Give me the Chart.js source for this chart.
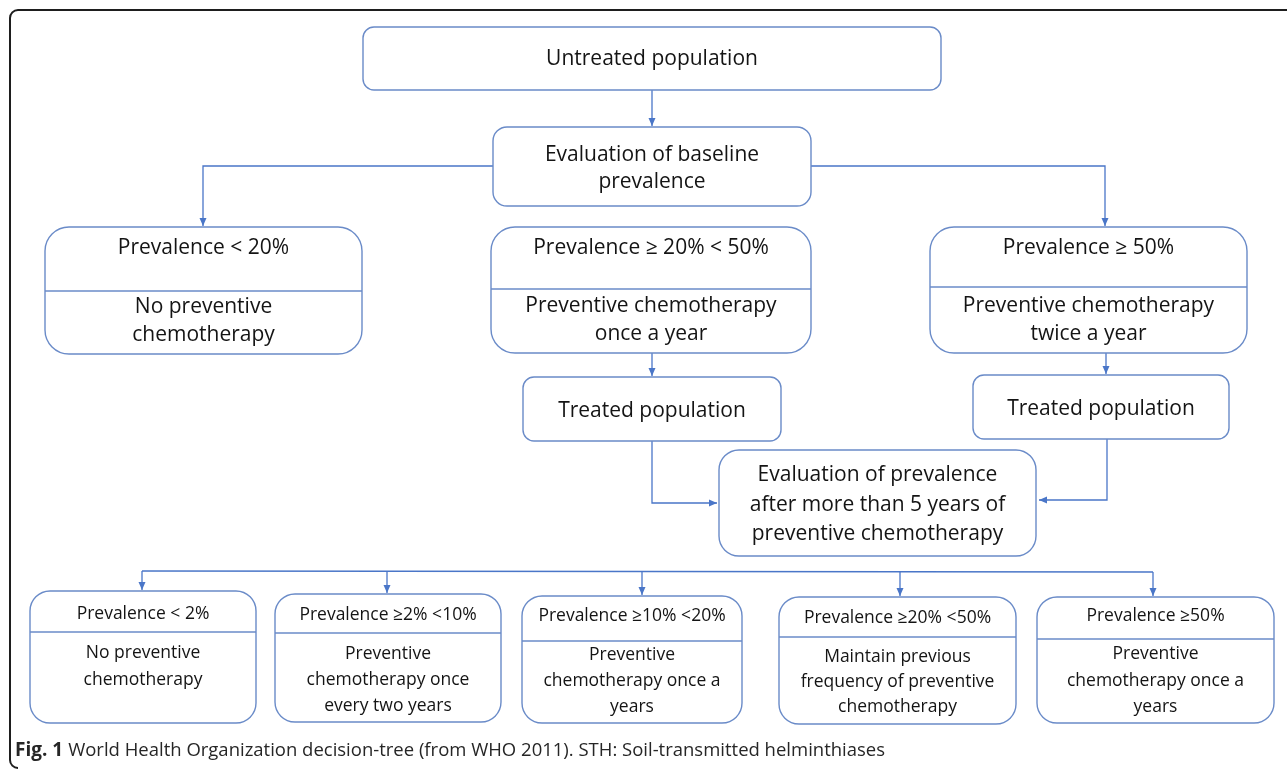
<!DOCTYPE html>
<html>
<head>
<meta charset="utf-8">
<title>WHO decision-tree</title>
<script src="https://cdn.jsdelivr.net/npm/chart.js@4.4.1/dist/chart.umd.min.js"></script>
<style>
  html, body { margin: 0; padding: 0; background: #fff; }
  #wrap { position: relative; width: 1287px; height: 769px; }
</style>
</head>
<body>
<div id="wrap"><canvas id="tree-chart"></canvas></div>
<script>
  'use strict';

  // node texts: header lines, then the lines under the divider (empty when no divider)
  const nodeHeads = [
    ['Untreated population'],
    ['Evaluation of baseline', 'prevalence'],
    ['Prevalence < 20%'],
    ['Prevalence \u2265 20% < 50%'],
    ['Prevalence \u2265 50%'],
    ['Treated population'],
    ['Treated population'],
    ['Evaluation of prevalence', 'after more than 5 years of', 'preventive chemotherapy'],
    ['Prevalence < 2%'],
    ['Prevalence \u22652% <10%'],
    ['Prevalence \u226510% <20%'],
    ['Prevalence \u226520% <50%'],
    ['Prevalence \u226550%']
  ];
  const nodeBodies = [
    [],
    [],
    ['No preventive', 'chemotherapy'],
    ['Preventive chemotherapy', 'once a year'],
    ['Preventive chemotherapy', 'twice a year'],
    [],
    [],
    [],
    ['No preventive', 'chemotherapy'],
    ['Preventive', 'chemotherapy once', 'every two years'],
    ['Preventive', 'chemotherapy once a', 'years'],
    ['Maintain previous', 'frequency of preventive', 'chemotherapy'],
    ['Preventive', 'chemotherapy once a', 'years']
  ];
  const captionBold = 'Fig. 1';
  const captionText = 'World Health Organization decision-tree (from WHO 2011). STH: Soil-transmitted helminthiases';

  // layout of the boxes, in chart units (x 0..1287, y 0..769 from the top)
  const boxLeft   = [363, 493, 45, 491, 930, 523, 973, 719, 30, 275, 522, 779, 1037];
  const boxTop    = [27, 127, 227, 227, 227, 377, 375, 450, 591, 594, 596, 597, 597];
  const boxRight  = [941, 811, 362, 811, 1247, 781, 1229, 1036, 256, 501, 742, 1016, 1274];
  const boxBottom = [90, 206, 354, 353, 353, 441, 439, 556, 723, 722, 723, 724, 723];
  const boxRadius = [11, 14, 24, 24, 24, 11, 11, 20, 20, 20, 20, 20, 20];
  const dividerY  = [null, null, 291, 289, 287, null, null, null, 632, 633, 641, 637, 639];
  const headY     = [[58], [154, 181], [247], [247], [247], [410], [408], [474, 504, 533], [613], [614], [615], [617], [615]];
  const bodyY     = [[], [], [306, 334], [305, 333], [305, 333], [], [], [], [652, 679], [653, 679, 705], [654, 680, 706], [656, 681, 706], [653, 680, 706]];
  const bigFont   = [21, 21, 21, 21, 21, 21, 21, 21, 17.5, 17.5, 17.5, 17.5, 17.5];

  // connectors: polylines, arrow head at the last point when arrow is true
  const links = [
    { pts: [[652, 90], [652, 126]], arrow: true },
    { pts: [[493, 166], [203, 166], [203, 226]], arrow: true },
    { pts: [[811, 166], [1105, 166], [1105, 226]], arrow: true },
    { pts: [[652, 353], [652, 376]], arrow: true },
    { pts: [[1106, 353], [1106, 374]], arrow: true },
    { pts: [[652, 441], [652, 503], [717, 503]], arrow: true },
    { pts: [[1107, 439], [1107, 500], [1039, 500]], arrow: true },
    { pts: [[142, 571], [1153, 572]], arrow: false },
    { pts: [[142, 571], [142, 590]], arrow: true },
    { pts: [[387, 571], [387, 593]], arrow: true },
    { pts: [[642, 571], [642, 595]], arrow: true },
    { pts: [[900, 572], [900, 596]], arrow: true },
    { pts: [[1153, 572], [1153, 596]], arrow: true }
  ];

  const boxColor = '#6a8bc8';
  const linkColor = '#4a76c8';
  const textColor = '#141414';
  const fontFamily = '"Open Sans", "Noto Sans", sans-serif';

  function roundRect(ctx, x0, y0, x1, y1, r) {
    ctx.beginPath();
    ctx.moveTo(x0 + r, y0);
    ctx.lineTo(x1 - r, y0);
    ctx.arcTo(x1, y0, x1, y0 + r, r);
    ctx.lineTo(x1, y1 - r);
    ctx.arcTo(x1, y1, x1 - r, y1, r);
    ctx.lineTo(x0 + r, y1);
    ctx.arcTo(x0, y1, x0, y1 - r, r);
    ctx.lineTo(x0, y0 + r);
    ctx.arcTo(x0, y0, x0 + r, y0, r);
    ctx.closePath();
  }

  const treePlugin = {
    id: 'decisionTree',
    afterDatasetsDraw: function (chart) {
      const ctx = chart.ctx;
      const sx = chart.scales.x;
      const sy = chart.scales.y;
      const px = v => sx.getPixelForValue(v);
      const py = v => sy.getPixelForValue(v);
      ctx.save();

      // outer frame
      ctx.strokeStyle = '#1e1e1e';
      ctx.lineWidth = 2;
      ctx.beginPath();
      ctx.moveTo(px(10), py(760));
      ctx.arcTo(px(10), py(768), px(18), py(768), 8);
      ctx.moveTo(px(10), py(760));
      ctx.lineTo(px(10), py(18));
      ctx.arcTo(px(10), py(10), px(18), py(10), 8);
      ctx.lineTo(px(1287), py(10));
      ctx.stroke();

      // connectors
      ctx.strokeStyle = linkColor;
      ctx.fillStyle = linkColor;
      ctx.lineWidth = 1.3;
      links.forEach(function (l) {
        ctx.beginPath();
        l.pts.forEach(function (p, i) {
          if (i === 0) ctx.moveTo(px(p[0]), py(p[1]));
          else ctx.lineTo(px(p[0]), py(p[1]));
        });
        ctx.stroke();
        if (l.arrow) {
          const a = l.pts[l.pts.length - 2];
          const b = l.pts[l.pts.length - 1];
          const x1 = px(b[0]), y1 = py(b[1]);
          const ang = Math.atan2(y1 - py(a[1]), x1 - px(a[0]));
          ctx.beginPath();
          ctx.moveTo(x1, y1);
          ctx.lineTo(x1 - 8 * Math.cos(ang) + 3.5 * Math.sin(ang), y1 - 8 * Math.sin(ang) - 3.5 * Math.cos(ang));
          ctx.lineTo(x1 - 8 * Math.cos(ang) - 3.5 * Math.sin(ang), y1 - 8 * Math.sin(ang) + 3.5 * Math.cos(ang));
          ctx.closePath();
          ctx.fill();
        }
      });

      // boxes
      ctx.lineWidth = 1.4;
      ctx.textAlign = 'center';
      ctx.textBaseline = 'middle';
      const nudge = 1.5; // canvas "middle" sits a little above the visual centre
      for (let i = 0; i < nodeHeads.length; i++) {
        const x0 = px(boxLeft[i]), x1 = px(boxRight[i]);
        const y0 = py(boxTop[i]), y1 = py(boxBottom[i]);
        ctx.fillStyle = '#ffffff';
        ctx.strokeStyle = boxColor;
        roundRect(ctx, x0, y0, x1, y1, boxRadius[i]);
        ctx.fill();
        ctx.stroke();
        if (dividerY[i] !== null) {
          ctx.beginPath();
          ctx.moveTo(x0, py(dividerY[i]));
          ctx.lineTo(x1, py(dividerY[i]));
          ctx.stroke();
        }
        const cx = (x0 + x1) / 2;
        ctx.fillStyle = textColor;
        ctx.font = bigFont[i] + 'px ' + fontFamily;
        nodeHeads[i].forEach(function (t, k) {
          ctx.fillText(t, cx, py(headY[i][k]) + nudge);
        });
        nodeBodies[i].forEach(function (t, k) {
          ctx.fillText(t, cx, py(bodyY[i][k]) + nudge);
        });
      }

      // caption
      ctx.textAlign = 'left';
      ctx.fillStyle = '#262626';
      ctx.font = 'bold 19px ' + fontFamily;
      ctx.fillText(captionBold, px(15), py(751), 53);
      const bw = Math.min(ctx.measureText(captionBold).width, 53);
      ctx.font = '18.5px ' + fontFamily;
      ctx.fillText(captionText, px(15) + bw + 5, py(751), px(885) - px(15) - bw - 5);

      ctx.restore();
    }
  };

  // invisible anchor points at box centres keep the scales honest
  const centres = nodeHeads.map(function (_, i) {
    return { x: (boxLeft[i] + boxRight[i]) / 2, y: (boxTop[i] + boxBottom[i]) / 2 };
  });

  new Chart(document.getElementById('tree-chart'), {
    type: 'scatter',
    data: {
      datasets: [{
        label: 'nodes',
        data: centres,
        pointRadius: 0,
        pointHoverRadius: 0
      }]
    },
    options: {
      responsive: true,
      maintainAspectRatio: false,
      animation: false,
      layout: { padding: 0 },
      scales: {
        x: { type: 'linear', min: 0, max: 1287, display: false },
        y: { type: 'linear', min: 0, max: 769, reverse: true, display: false }
      },
      plugins: {
        legend: { display: false },
        tooltip: { enabled: false }
      }
    },
    plugins: [treePlugin]
  });
</script>
</body>
</html>
